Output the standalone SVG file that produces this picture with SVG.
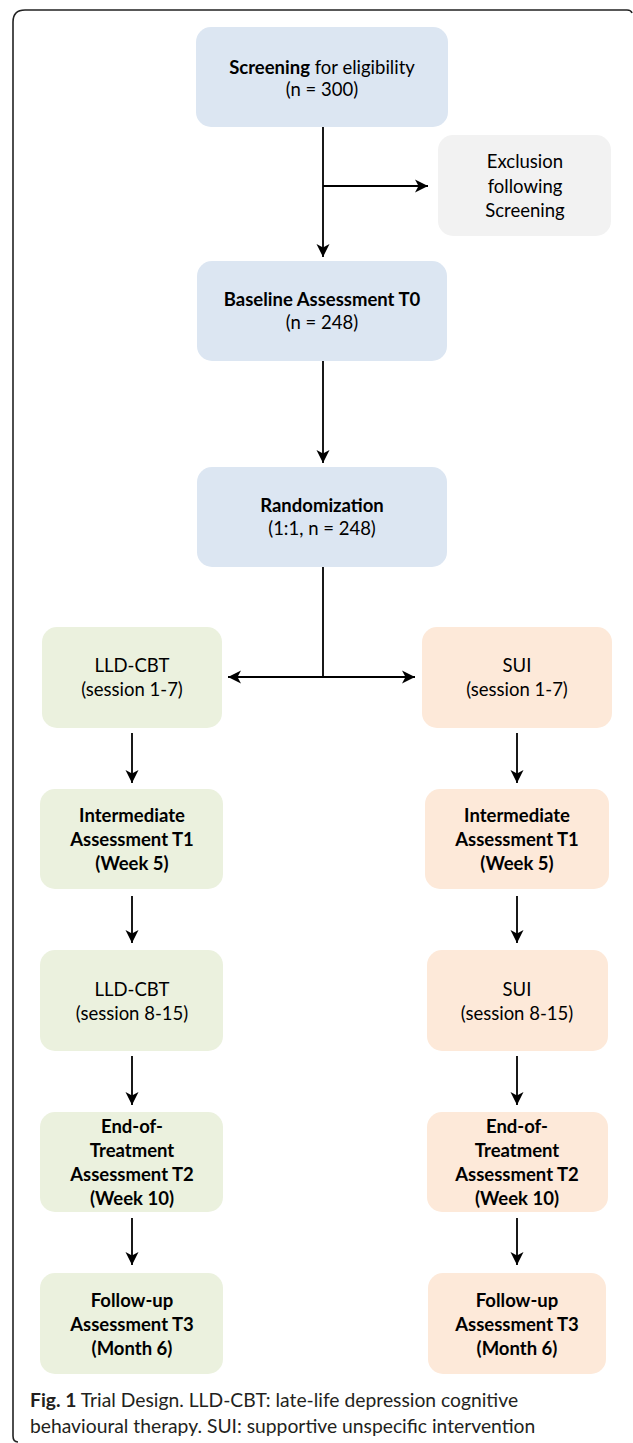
<svg xmlns="http://www.w3.org/2000/svg" width="633" height="1443" viewBox="0 0 633 1443">
<style>
.t{font-family:Lato,"Liberation Sans",sans-serif;font-size:18.5px;fill:#000;text-anchor:middle}
.b{font-weight:bold}
.blue{fill:#dce6f2}
.green{fill:#ebf1de}
.orange{fill:#fde9d9}
.grey{fill:#f2f2f2}
.ln{stroke:#000;stroke-width:1.8;fill:none}
.cap{font-family:Lato,"Liberation Sans",sans-serif;font-size:19.3px;fill:#231f20}
</style>
<defs>
<marker id="ah" viewBox="0 0 14 14" refX="13" refY="7" markerWidth="14" markerHeight="14" markerUnits="userSpaceOnUse" orient="auto-start-reverse">
<path d="M0,0.5 L13,7 L0,13.5 L3.5,7 Z" fill="#000"/>
</marker>
</defs>
<rect width="633" height="1443" fill="#fff"/>
<path d="M632,13 Q631,10 627,10 L25,10 Q13,10 13,22 L13,1436 Q13,1442 18,1442" fill="none" stroke="#222" stroke-width="1.6"/>

<g id="connectors">
<path class="ln" d="M323,127 L323,257" marker-end="url(#ah)"/>
<path class="ln" d="M323,186 L428,186" marker-end="url(#ah)"/>
<path class="ln" d="M323,361 L323,463" marker-end="url(#ah)"/>
<path class="ln" d="M323,567 L323,677"/>
<path class="ln" d="M228,677 L415,677" marker-start="url(#ah)" marker-end="url(#ah)"/>
<path class="ln" d="M132,733 L132,783" marker-end="url(#ah)"/>
<path class="ln" d="M132,896 L132,943" marker-end="url(#ah)"/>
<path class="ln" d="M132,1056 L132,1105" marker-end="url(#ah)"/>
<path class="ln" d="M132,1218 L132,1265" marker-end="url(#ah)"/>
<path class="ln" d="M517,733 L517,783" marker-end="url(#ah)"/>
<path class="ln" d="M517,896 L517,943" marker-end="url(#ah)"/>
<path class="ln" d="M517,1056 L517,1105" marker-end="url(#ah)"/>
<path class="ln" d="M517,1218 L517,1265" marker-end="url(#ah)"/>
</g>

<g id="screening">
<rect class="blue" x="196" y="27" width="252" height="100" rx="15"/>
<text class="t" x="322" y="74"><tspan class="b">Screening</tspan> for eligibility</text>
<text class="t" x="322" y="96">(n = 300)</text>
</g>
<g id="exclusion">
<rect class="grey" x="438" y="135" width="173" height="101" rx="15"/>
<text class="t" x="525" y="168">Exclusion</text>
<text class="t" x="525" y="193">following</text>
<text class="t" x="525" y="217">Screening</text>
</g>
<g id="baseline">
<rect class="blue" x="197" y="261" width="250" height="100" rx="15"/>
<text class="t b" x="322" y="306">Baseline Assessment T0</text>
<text class="t" x="322" y="329">(n = 248)</text>
</g>
<g id="randomization">
<rect class="blue" x="197" y="467" width="250" height="100" rx="15"/>
<text class="t b" x="322" y="512">Randomization</text>
<text class="t" x="322" y="535">(1:1, n = 248)</text>
</g>

<g id="lldcbt1">
<rect class="green" x="42" y="627" width="180" height="101" rx="15"/>
<text class="t" x="132" y="672">LLD-CBT</text>
<text class="t" x="132" y="696">(session 1-7)</text>
</g>
<g id="sui1">
<rect class="orange" x="422" y="627" width="190" height="101" rx="15"/>
<text class="t" x="517" y="672">SUI</text>
<text class="t" x="517" y="696">(session 1-7)</text>
</g>

<g id="intermediate-left">
<rect class="green" x="40" y="789" width="183" height="100" rx="15"/>
<text class="t b" x="132" y="822">Intermediate</text>
<text class="t b" x="132" y="846">Assessment T1</text>
<text class="t b" x="132" y="870">(Week 5)</text>
</g>
<g id="intermediate-right">
<rect class="orange" x="425" y="789" width="184" height="100" rx="15"/>
<text class="t b" x="517" y="822">Intermediate</text>
<text class="t b" x="517" y="846">Assessment T1</text>
<text class="t b" x="517" y="870">(Week 5)</text>
</g>

<g id="lldcbt2">
<rect class="green" x="40" y="950" width="183" height="101" rx="15"/>
<text class="t" x="132" y="996">LLD-CBT</text>
<text class="t" x="132" y="1020">(session 8-15)</text>
</g>
<g id="sui2">
<rect class="orange" x="427" y="950" width="181" height="101" rx="15"/>
<text class="t" x="517" y="996">SUI</text>
<text class="t" x="517" y="1020">(session 8-15)</text>
</g>

<g id="end-left">
<rect class="green" x="40" y="1112" width="183" height="100" rx="15"/>
<text class="t b" x="132" y="1133">End-of-</text>
<text class="t b" x="132" y="1157">Treatment</text>
<text class="t b" x="132" y="1181">Assessment T2</text>
<text class="t b" x="132" y="1205">(Week 10)</text>
</g>
<g id="end-right">
<rect class="orange" x="427" y="1112" width="181" height="100" rx="15"/>
<text class="t b" x="517" y="1133">End-of-</text>
<text class="t b" x="517" y="1157">Treatment</text>
<text class="t b" x="517" y="1181">Assessment T2</text>
<text class="t b" x="517" y="1205">(Week 10)</text>
</g>

<g id="followup-left">
<rect class="green" x="40" y="1273" width="183" height="101" rx="15"/>
<text class="t b" x="132" y="1307">Follow-up</text>
<text class="t b" x="132" y="1331">Assessment T3</text>
<text class="t b" x="132" y="1355">(Month 6)</text>
</g>
<g id="followup-right">
<rect class="orange" x="428" y="1273" width="178" height="101" rx="15"/>
<text class="t b" x="517" y="1307">Follow-up</text>
<text class="t b" x="517" y="1331">Assessment T3</text>
<text class="t b" x="517" y="1355">(Month 6)</text>
</g>

<g id="caption">
<text class="cap" x="30" y="1407"><tspan font-weight="bold">Fig. 1</tspan> Trial Design. LLD-CBT: late-life depression cognitive</text>
<text class="cap" x="30" y="1433">behavioural therapy. SUI: supportive unspecific intervention</text>
</g>
</svg>
